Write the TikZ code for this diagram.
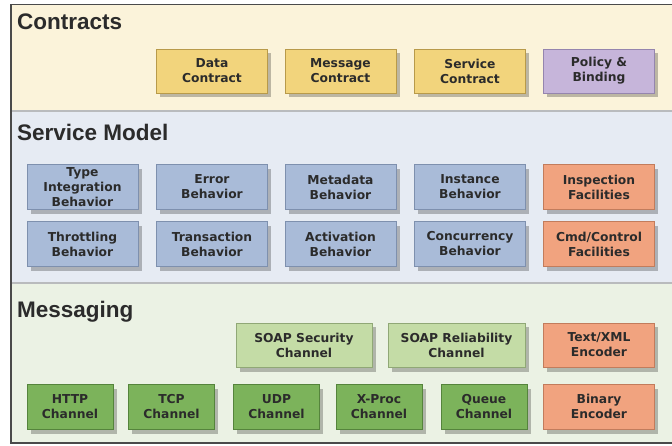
\documentclass[tikz,border=0pt]{standalone}
\usepackage{fontspec}
\setmainfont{DejaVu Sans}
\newfontfamily\titlefont{Liberation Sans}
\usetikzlibrary{shadows}
\definecolor{bandC}{HTML}{FBF3DA}
\definecolor{bandS}{HTML}{E6EBF3}
\definecolor{bandM}{HTML}{EBF2E4}
\definecolor{yelF}{HTML}{F2D47C}\definecolor{yelD}{HTML}{B89A4A}
\definecolor{purF}{HTML}{C6B5DA}\definecolor{purD}{HTML}{9585AE}
\definecolor{bluF}{HTML}{A9BBD8}\definecolor{bluD}{HTML}{7E90AE}
\definecolor{orgF}{HTML}{F1A37F}\definecolor{orgD}{HTML}{C27C5C}
\definecolor{lgrF}{HTML}{C4DCA6}\definecolor{lgrD}{HTML}{90A876}
\definecolor{grnF}{HTML}{7CB35B}\definecolor{grnD}{HTML}{55843C}
\definecolor{txt}{HTML}{2B2B2B}
\definecolor{frame}{HTML}{4A4A4A}
\definecolor{sep}{HTML}{B9BBBD}
\tikzset{
  title/.style={anchor=base west,inner sep=0pt,text=txt,font=\titlefont\bfseries\fontsize{22.5}{24}\selectfont},
  box/.style={draw,line width=0.9pt,inner sep=0pt,align=center,text=txt,
    font=\bfseries\fontsize{12.3}{15}\selectfont,
    drop shadow={shadow xshift=3.5pt,shadow yshift=-4.5pt,fill=black,opacity=0.25}},
  yel/.style={box,fill=yelF,draw=yelD},
  pur/.style={box,fill=purF,draw=purD},
  blu/.style={box,fill=bluF,draw=bluD},
  org/.style={box,fill=orgF,draw=orgD},
  lgr/.style={box,fill=lgrF,draw=lgrD},
  grn/.style={box,fill=grnF,draw=grnD},
  wA/.style={minimum width=111pt},
  h44/.style={minimum height=44pt},
  h45/.style={minimum height=45pt}
}
\begin{document}
\begin{tikzpicture}[x=1pt,y=-1pt]
\useasboundingbox (0,0) rectangle (672,446);
\fill[white] (0,0) rectangle (672,446);
% bands
\fill[bandC] (11,4.5) rectangle (672,110.5);
\fill[bandS] (11,110.5) rectangle (672,282.5);
\fill[bandM] (11,282.5) rectangle (672,443);
\draw[sep,line width=2pt] (11,111) -- (672,111);
\draw[sep,line width=2pt] (11,283) -- (672,283);
% frame
\draw[frame,line width=1.3pt] (672,4.5) -- (11,4.5) -- (11,443) -- (672,443);
% titles
\node[title] (tC) at (17,29.5) {Contracts};
\node[title] (tS) at (17,141) {Service Model};
\node[title] (tM) at (17,317) {Messaging};
% contracts
\node[yel,wA,h44] (dc) at (212,71) {Data\\Contract};
\node[yel,wA,h44] (mc) at (340.5,71) {Message\\Contract};
\node[yel,wA,h44] (sc) at (470,71) {Service\\Contract};
\node[pur,wA,h44] (pb) at (599,71) {Policy \&\\Binding};
% service model
\node[blu,wA,h45] (ti) at (82.5,187) {Type\\Integration\\Behavior};
\node[blu,wA,h45] (eb) at (212,187) {Error\\Behavior};
\node[blu,wA,h45] (mb) at (340.5,187) {Metadata\\Behavior};
\node[blu,wA,h45] (ib) at (470,187) {Instance\\Behavior};
\node[org,wA,h45] (if) at (599,187) {Inspection\\Facilities};
\node[blu,wA,h45] (tb) at (82.5,244) {Throttling\\Behavior};
\node[blu,wA,h45] (xb) at (212,244) {Transaction\\Behavior};
\node[blu,wA,h45] (ab) at (340.5,244) {Activation\\Behavior};
\node[blu,wA,h45] (cb) at (470,244) {Concurrency\\Behavior};
\node[org,wA,h45] (cf) at (599,244) {Cmd/Control\\Facilities};
% messaging
\node[lgr,h44,minimum width=136pt] (ss) at (304,345) {SOAP Security\\Channel};
\node[lgr,h44,minimum width=137pt] (sr) at (456.5,345) {SOAP Reliability\\Channel};
\node[org,wA,h44] (te) at (599,345) {Text/XML\\Encoder};
\node[grn,h45,minimum width=86pt] (hc) at (70,406.5) {HTTP\\Channel};
\node[grn,h45,minimum width=86pt] (tc) at (171.5,406.5) {TCP\\Channel};
\node[grn,h45,minimum width=86pt] (uc) at (276.5,406.5) {UDP\\Channel};
\node[grn,h45,minimum width=86pt] (xc) at (379,406.5) {X-Proc\\Channel};
\node[grn,h45,minimum width=86pt] (qc) at (484,406.5) {Queue\\Channel};
\node[org,wA,h45] (be) at (599,406.5) {Binary\\Encoder};
\end{tikzpicture}
\end{document}
